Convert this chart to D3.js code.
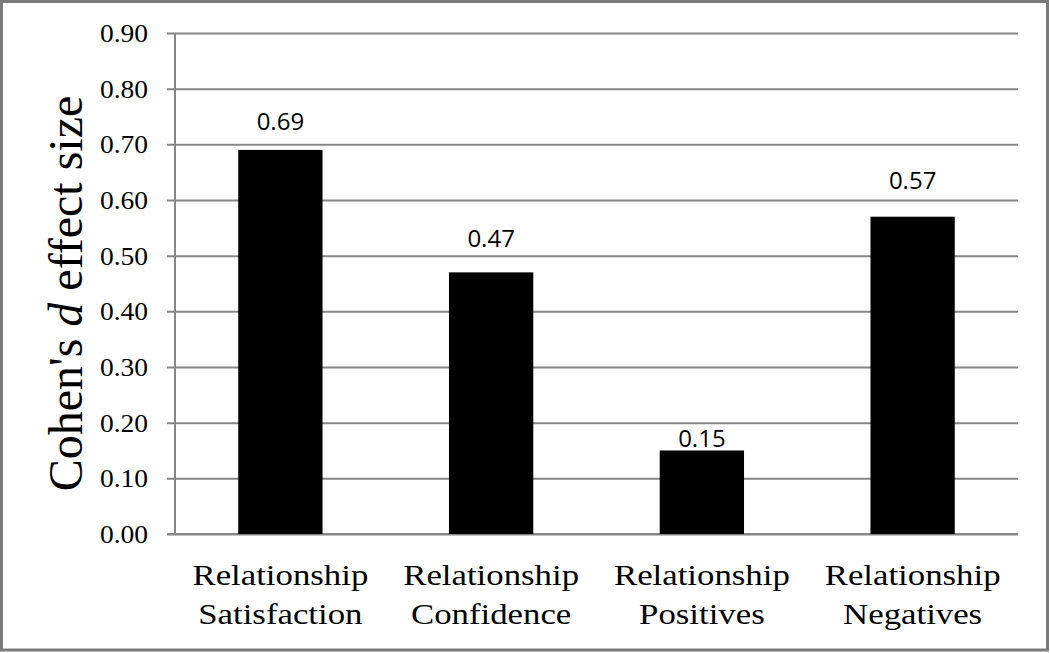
<!DOCTYPE html>
<html>
<head>
<meta charset="utf-8">
<script src="https://d3js.org/d3.v7.min.js"></script>
<style>
  body { margin: 0; background: #fff; }
  svg { display: block; }
</style>
</head>
<body>
<svg id="chart" width="1050" height="653"></svg>
<script>
// data
const categories = ["Relationship Satisfaction", "Relationship Confidence", "Relationship Positives", "Relationship Negatives"];
const effectSizes = [0.69, 0.47, 0.15, 0.57];
const valueLabels = ["0.69", "0.47", "0.15", "0.57"];
const yTicks = [0, 0.1, 0.2, 0.3, 0.4, 0.5, 0.6, 0.7, 0.8, 0.9];

// labels were nudged by hand in the original, so lift each one a little differently
const labelLift = [20, 25, 4, 28];

const width = 1050, height = 653;
const margin = { top: 33, right: 32, bottom: 119, left: 175 };
const gridColor = "#868686";

const svg = d3.select("#chart");

// outer frame
svg.append("rect")
  .attr("x", 1.5).attr("y", 1.5)
  .attr("width", width - 4).attr("height", height - 4.5)
  .attr("fill", "#fff")
  .attr("stroke", "#7a7a7a")
  .attr("stroke-width", 3);

const x = d3.scaleBand()
  .domain(categories)
  .range([margin.left, width - margin.right])
  .paddingInner(0.6)
  .paddingOuter(0.3);

const y = d3.scaleLinear()
  .domain([0, 0.9])
  .range([height - margin.bottom, margin.top]);

// y axis with gridlines running across the plot (ticks poke 8px out to the left)
const yAxis = svg.append("g")
  .attr("transform", `translate(${margin.left - 8},0)`)
  .call(d3.axisLeft(y)
    .tickValues(yTicks)
    .tickFormat(d3.format(".2f"))
    .tickSizeInner(-(width - margin.right - margin.left + 8))
    .tickSizeOuter(0)
    .tickPadding(19));

yAxis.select(".domain").remove();
yAxis.selectAll(".tick line")
  .attr("stroke", gridColor)
  .attr("stroke-width", 2);
yAxis.selectAll(".tick text")
  .attr("x", 0)
  .attr("dy", null)
  .attr("y", 8.5)
  .attr("transform", "translate(-19,0) scale(1.1,1)")
  .attr("fill", "#000")
  .style("font-family", "'Liberation Serif', 'Times New Roman', serif")
  .style("font-size", "25px");

// axis lines
svg.append("line")
  .attr("x1", margin.left).attr("x2", margin.left)
  .attr("y1", y(0.9)).attr("y2", y(0))
  .attr("stroke", gridColor).attr("stroke-width", 2);
svg.append("line")
  .attr("x1", margin.left - 8).attr("x2", width - margin.right)
  .attr("y1", y(0)).attr("y2", y(0))
  .attr("stroke", gridColor).attr("stroke-width", 2);

// bars
svg.selectAll(".bar")
  .data(effectSizes)
  .enter().append("rect")
  .attr("class", "bar")
  .attr("x", (d, i) => x(categories[i]))
  .attr("y", d => y(d))
  .attr("width", x.bandwidth())
  .attr("height", d => y(0) - y(d))
  .attr("fill", "#000");

// value labels
svg.selectAll(".val")
  .data(effectSizes)
  .enter().append("text")
  .attr("class", "val")
  .attr("x", (d, i) => x(categories[i]) + x.bandwidth() / 2)
  .attr("y", (d, i) => y(d) - labelLift[i])
  .attr("text-anchor", "middle")
  .style("font-family", "'Open Sans', 'Liberation Sans', sans-serif")
  .style("font-size", "24px")
  .text((d, i) => valueLabels[i]);

// category labels, two lines each
const catLabels = svg.selectAll(".cat")
  .data(categories)
  .enter().append("g")
  .attr("class", "cat")
  .attr("transform", d => `translate(${x(d) + x.bandwidth() / 2},0)`);

catLabels.each(function(d) {
  const lines = d.split(" ");
  const g = d3.select(this);
  lines.forEach((line, j) => {
    g.append("text")
      .attr("transform", `translate(0,${585 + j * 39}) scale(1.2,1)`)
      .attr("text-anchor", "middle")
      .style("font-family", "'Liberation Serif', 'Times New Roman', serif")
      .style("font-size", "29px")
      .text(line);
  });
});

// y axis title
const title = svg.append("text")
  .attr("transform", `translate(82,${(y(0) + y(0.9)) / 2 + 10}) rotate(-90)`)
  .attr("text-anchor", "middle")
  .style("font-family", "'Liberation Serif', 'Times New Roman', serif")
  .style("font-size", "48px");
title.append("tspan").text("Cohen's ");
title.append("tspan").style("font-style", "italic").text("d");
title.append("tspan").text(" effect size");
</script>
</body>
</html>
